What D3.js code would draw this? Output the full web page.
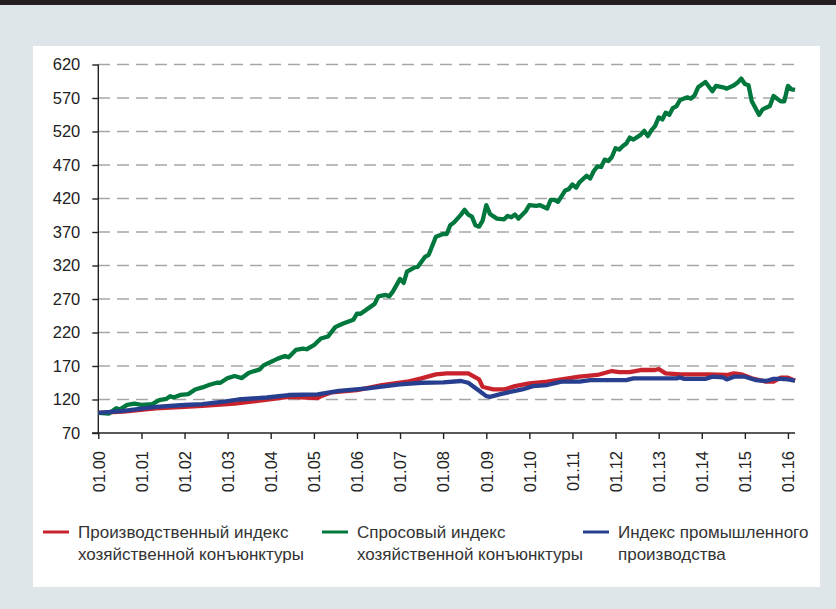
<!DOCTYPE html>
<html>
<head>
<meta charset="utf-8">
<script src="https://cdn.jsdelivr.net/npm/d3@7"></script>
<style>
  body { margin: 0; background: #dfe6ea; }
  svg { display: block; font-family: "Liberation Sans", Arial, sans-serif; }
</style>
</head>
<body>
<div class="main"></div>
<script>
var width = 836;
var height = 609;

var yTicks = [70, 120, 170, 220, 270, 320, 370, 420, 470, 520, 570, 620];
var xTickYears = d3.range(2000, 2017);

var redMonths = ["2000-01","2000-08","2001-05","2002-01","2002-06","2003-03","2003-11","2004-06","2005-02","2005-03","2005-06","2006-01","2006-08","2007-03","2007-07","2007-11","2008-02","2008-08","2008-10","2008-11","2008-12","2009-01","2009-03","2009-06","2009-09","2010-01","2010-06","2010-10","2011-03","2011-08","2011-12","2012-02","2012-05","2012-08","2012-12","2013-01","2013-03","2013-07","2014-03","2014-08","2014-10","2014-12","2015-03","2015-07","2015-09","2015-11","2016-01","2016-03"];
var redValues = [100,101.8,106.8,109,110.7,114,119,124,122,125,130.7,134,141.6,146.5,151.6,157.6,159,159,153,150,139,137.6,135,135,140,144,146.6,150,154,156.6,162.5,161,161,164,164,165.5,159,157.6,157.6,156.6,159,157.6,151.6,146.6,146.6,152.5,152.5,148];

var blueMonths = ["2000-01","2000-08","2001-05","2002-01","2002-06","2002-12","2003-04","2003-12","2004-06","2005-02","2005-08","2006-04","2007-01","2007-07","2008-01","2008-06","2008-08","2008-11","2009-01","2009-02","2009-05","2009-09","2009-11","2010-02","2010-06","2010-10","2011-03","2011-06","2012-04","2012-06","2013-06","2013-07","2013-08","2014-02","2014-04","2014-07","2014-08","2014-10","2015-01","2015-04","2015-07","2015-09","2015-11","2016-01","2016-03"];
var blueValues = [100,103,109,111.8,113,116.7,120,123,126.7,127.7,133,136.7,142.7,145,145.6,147.6,145,133,125,124,128,133,135,140,141.6,146.6,146.6,149,149,151.6,151.6,153,150.8,150.8,154,153,150,154,154,149,147.6,150.8,150.8,150,148];

var greenMonths = ["2000-01","2000-04","2000-06","2000-07","2000-09","2000-11","2001-01","2001-04","2001-06","2001-08","2001-09","2001-10","2001-12","2002-02","2002-04","2002-06","2002-08","2002-10","2002-11","2003-01","2003-03","2003-05","2003-07","2003-10","2003-11","2004-01","2004-03","2004-05","2004-06","2004-08","2004-10","2004-11","2005-01","2005-03","2005-05","2005-07","2005-09","2005-12","2006-01","2006-02","2006-05","2006-06","2006-07","2006-09","2006-10","2006-11","2007-01","2007-02","2007-03","2007-05","2007-06","2007-08","2007-09","2007-11","2008-01","2008-02","2008-03","2008-04","2008-06","2008-07","2008-08","2008-09","2008-10","2008-11","2008-12","2009-01","2009-02","2009-04","2009-06","2009-07","2009-08","2009-09","2009-10","2009-12","2010-01","2010-03","2010-04","2010-06","2010-07","2010-08","2010-09","2010-11","2010-12","2011-01","2011-02","2011-03","2011-05","2011-06","2011-07","2011-08","2011-09","2011-10","2011-11","2011-12","2012-01","2012-02","2012-03","2012-04","2012-05","2012-06","2012-08","2012-09","2012-10","2012-11","2012-12","2013-01","2013-02","2013-03","2013-04","2013-05","2013-06","2013-07","2013-09","2013-10","2013-11","2013-12","2014-02","2014-04","2014-05","2014-07","2014-08","2014-10","2014-11","2014-12","2015-01","2015-02","2015-03","2015-05","2015-06","2015-08","2015-09","2015-11","2015-12","2016-01","2016-02","2016-03"];
var greenValues = [100,99,107,105,112,114,112,113,119,121,125,123,127,128,135,138,142,145,145,152,155,152,160,165,171,176,181,185,183,194,196,195,201,211,214,228,233,239,248,248,259,263,274,276,274,281,300,294,311,317,318,333,336,363,367,367,380,384,396,403,396,393,380,378,387,410,397,390,389,394,392,396,390,401,410,409,410,405,418,418,415,432,434,441,436,444,454,450,461,468,467,478,476,482,495,493,498,502,511,508,515,521,513,522,528,541,538,548,545,555,558,567,571,569,574,586,594,580,588,586,584,589,593,599,591,589,565,545,553,558,573,565,565,588,583,582];

var seriesNames = ["Производственный индекс\nхозяйственной конъюнктуры", "Спросовый индекс\nхозяйственной конъюнктуры", "Индекс промышленного\nпроизводства"];
var seriesColors = ["#c8232c", "#00773d", "#283f8f"];

var parseMonth = d3.timeParse("%Y-%m");

var svg = d3.select(".main")
    .append("svg")
        .attr("width", width)
        .attr("height", height);

svg.append("rect")
    .attr("x", 0).attr("y", 0)
    .attr("width", width).attr("height", height)
    .attr("fill", "#dfe6ea");

svg.append("rect")
    .attr("x", 0).attr("y", 0)
    .attr("width", width).attr("height", 5)
    .attr("fill", "#231f20");

svg.append("rect")
    .attr("x", 33).attr("y", 46)
    .attr("width", 787).attr("height", 541)
    .attr("fill", "#ffffff");

var xScale = d3.scaleTime()
    .domain([new Date(2000, 0, 1), new Date(2016, 2, 1)])
    .range([98.3, 795]);

var yScale = d3.scaleLinear()
    .domain([70, 620])
    .range([433, 64.5]);

// gridlines
svg.append("g")
    .selectAll("line")
    .data(yTicks.slice(1))
    .enter()
    .append("line")
        .attr("x1", 98)
        .attr("x2", 795)
        .attr("y1", d => yScale(d))
        .attr("y2", d => yScale(d))
        .attr("stroke", "#a6a6a6")
        .attr("stroke-width", 1.5)
        .attr("stroke-dasharray", "12,7");

var yAxis = d3.axisLeft(yScale)
    .tickValues(yTicks)
    .tickSize(6)
    .tickPadding(12);

var yAxisGroup = svg.append("g")
    .attr("transform", "translate(98.3, 0)")
    .call(yAxis);

var xAxis = d3.axisBottom(xScale)
    .tickValues(xTickYears.map(y => new Date(y, 0, 1)))
    .tickSize(6)
    .tickFormat(d3.timeFormat("%m.%y"));

var xAxisGroup = svg.append("g")
    .attr("transform", "translate(0, 433)")
    .call(xAxis);

xAxisGroup.selectAll("text")
    .attr("transform", "rotate(-90)")
    .attr("x", -18)
    .attr("y", 0)
    .attr("dy", "0.35em")
    .style("text-anchor", "end");

xAxisGroup.select(".domain").attr("d", "M92,0H795");
yAxisGroup.select(".domain").attr("d", "M0,64.5V433");

svg.selectAll(".domain, .tick line")
    .attr("stroke", "#222")
    .attr("stroke-width", 1.4);

svg.selectAll(".tick text")
    .attr("fill", "#222")
    .style("font-size", "16.5px")
    .style("font-family", "'Liberation Sans', Arial, sans-serif");

var line = d3.line()
    .x(d => xScale(d[0]))
    .y(d => yScale(d[1]));

var seriesData = [
    d3.zip(redMonths.map(parseMonth), redValues),
    d3.zip(greenMonths.map(parseMonth), greenValues),
    d3.zip(blueMonths.map(parseMonth), blueValues)
];

svg.append("g")
    .selectAll("path")
    .data(seriesData)
    .enter()
    .append("path")
        .attr("d", line)
        .attr("fill", "none")
        .attr("stroke", (d, i) => seriesColors[i])
        .attr("stroke-width", 4.3)
        .attr("stroke-linejoin", "round");

var legendX = [43, 322, 583];

var legend = svg.append("g")
    .selectAll("g")
    .data(seriesNames)
    .enter()
    .append("g")
        .attr("transform", (d, i) => "translate(" + legendX[i] + ", 532)");

legend.append("line")
    .attr("x1", 0).attr("x2", 26)
    .attr("y1", 0).attr("y2", 0)
    .attr("stroke", (d, i) => seriesColors[i])
    .attr("stroke-width", 3);

legend.append("text")
    .attr("x", 35)
    .attr("y", 6)
    .attr("fill", "#333")
    .style("font-size", "17px")
    .selectAll("tspan")
    .data(d => d.split("\n"))
    .enter()
    .append("tspan")
        .attr("x", 35)
        .attr("dy", (d, i) => i === 0 ? 0 : 22)
        .text(d => d);
</script>
</body>
</html>
